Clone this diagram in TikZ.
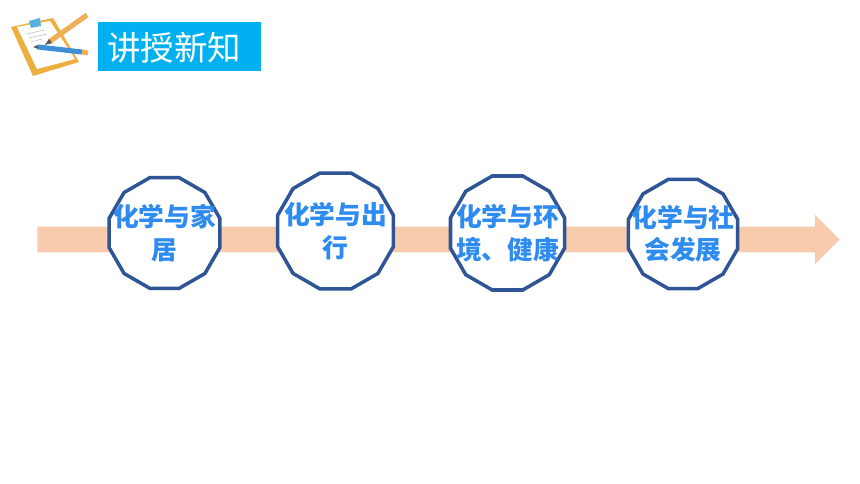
\documentclass[tikz,border=0pt]{standalone}
\usepackage{fontspec}
\setmainfont{Noto Sans CJK SC}
\usetikzlibrary{shapes.geometric,shapes.arrows}
\definecolor{arrowfill}{HTML}{F7CBAC}
\definecolor{ringline}{HTML}{2F5597}
\definecolor{ringtext}{HTML}{2E8BF0}
\definecolor{titlefill}{HTML}{00B0F0}
\definecolor{boardedge}{HTML}{EDB040}
\definecolor{pencilorange}{HTML}{F0AE55}
\definecolor{pencilblue}{HTML}{3F8FD8}
\definecolor{clipblue}{HTML}{5AB0E0}
\begin{document}
\begin{tikzpicture}[x=0.025cm, y=-0.025cm,
	ring/.style = {draw=ringline, fill=white, line width=2.5pt, regular polygon, regular polygon sides=12, inner sep=0pt, minimum size=2.86cm},
	ringlabel/.style = {text=ringtext, font=\fontsize{18.3pt}{23pt}\selectfont\bfseries, align=center, inner sep=0pt},
	mainarrow/.style = {fill=arrowfill, single arrow, single arrow head extend=0.3cm, single arrow tip angle=90, inner xsep=0pt, inner ysep=0.3125cm, minimum height=20.05cm, anchor=west}]

	\useasboundingbox (0,0) rectangle (860,484);

	% icon
	\fill[boardedge] (11,27) -- (53,18) -- (79,62) -- (33,76) -- cycle;
	\fill[white] (17,27) -- (50,21) -- (75,59) -- (37,69) -- cycle;
	\draw[gray!50, line width=0.4pt] (27,34) -- (44,30) (29,38) -- (47,34) (31,42) -- (42,39);
	\fill[clipblue] (29,21) -- (40,18) -- (41,26) -- (31,28) -- cycle;
	\draw[line width=3.6pt, pencilorange] (49,42) -- (87,15);
	\fill[gray!70!black] (45,45) -- (49,39) -- (52,43) -- cycle;
	\draw[line width=3.6pt, pencilblue] (38,47) -- (82,52);
	\draw[line width=3.6pt, pencilorange] (82,52) -- (88,53);
	\fill[gray!70!black] (33,47) -- (38,45) -- (38,49) -- cycle;

	% arrow
	\node[mainarrow] (line) at (37,239.5) {};

	% title
	\node[fill=titlefill, minimum width=4.075cm, minimum height=1.225cm, inner sep=0pt] (titlebox) at (179.5,46.5) {};
	\node[text=white, font=\fontsize{23.8pt}{26pt}\selectfont, inner sep=0pt] (title) at (174,48) {讲授新知};

	% rings
	\node[ring] (home) at (164.5,233) {};
	\node[ring, minimum size=3cm] (trip) at (335.5,231) {};
	\node[ring, minimum size=2.95cm] (health) at (507.5,233) {};
	\node[ring, minimum size=2.83cm] (society) at (683,234) {};

	\node[ringlabel] (homelabel) at (home) {化学与家\\居};
	\node[ringlabel] (triplabel) at (trip) {化学与出\\行};
	\node[ringlabel] (healthlabel) at (health) {化学与环\\境、健康};
	\node[ringlabel] (societylabel) at (society) {化学与社\\会发展};
\end{tikzpicture}
\end{document}
